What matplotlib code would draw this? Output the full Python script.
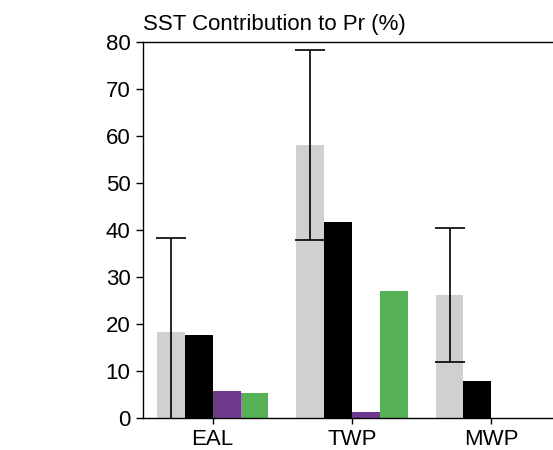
import matplotlib

matplotlib.use("Agg")
import matplotlib.pyplot as plt
import numpy as np

plt.rcParams["font.family"] = ["Liberation Sans", "DejaVu Sans"]

regions = ["EAL", "TWP", "MWP"]
total = [18.3, 58.1, 26.2]
total_err = [19.9, 20.3, 14.3]
black_vals = [17.7, 41.7, 7.9]
purple_vals = [5.7, 1.2, 0.0]
green_vals = [5.3, 27.0, 0.0]
yticks = [0, 10, 20, 30, 40, 50, 60, 70, 80]

fig = plt.figure(figsize=(5.53, 4.5), dpi=100)
ax = fig.add_axes([143 / 553, 1 - 418 / 450, 418 / 553, 376 / 450])

x = np.arange(len(regions))
w = 0.2
ax.bar(x - 1.5 * w, total, w, color="#cfd0cf", zorder=1)
ax.bar(x - 0.5 * w, black_vals, w, color="black", zorder=1)
ax.bar(x + 0.5 * w, purple_vals, w, color="#6f3a8e", zorder=1)
ax.bar(x + 1.5 * w, green_vals, w, color="#57b257", zorder=1)
ax.errorbar(x - 1.5 * w, total, yerr=total_err, fmt="none", ecolor="black",
            elinewidth=1.2, capsize=10.5, capthick=1.2, zorder=3)

ax.set_xlim(-0.5, 2.5)
ax.set_ylim(0, 80)
ax.set_yticks(yticks)
ax.set_xticks(x)
ax.set_xticklabels(regions)
ax.tick_params(axis="y", labelsize=16, length=5, width=1, direction="out", pad=4)
ax.tick_params(axis="x", labelsize=16, length=4, width=1, direction="out", pad=4)
for s in ax.spines.values():
    s.set_linewidth(1)
ax.set_title("SST Contribution to Pr (%)", loc="left", fontsize=16, pad=8.5)

fig.savefig("out.png", dpi=100)
